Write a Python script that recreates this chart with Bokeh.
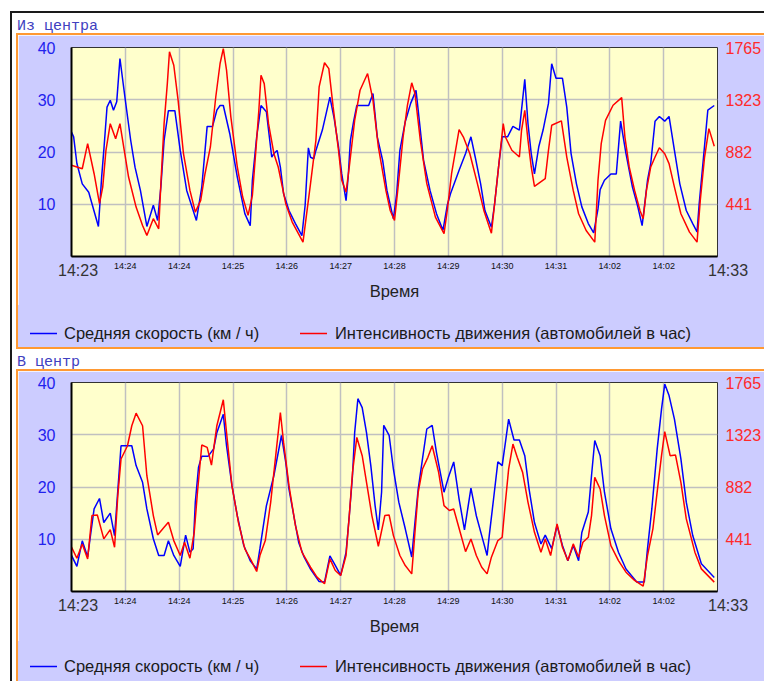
from bokeh.plotting import figure
from bokeh.models import Range1d, LinearAxis, FixedTicker, Div
from bokeh.layouts import column, row
from bokeh.embed import file_html
from bokeh.resources import INLINE

# ---------------- data ----------------
# time axis: seconds after 14:23:00, ticks every 50 s
tick_secs = [0, 50, 100, 150, 200, 250, 300, 350, 400, 450, 500, 550, 600]
tick_labels = ["14:23", "14:24", "14:24", "14:25", "14:26", "14:27", "14:28",
               "14:29", "14:30", "14:31", "14:02", "14:02", "14:33"]
speed_ticks = [10, 20, 30, 40]
flow_ticks = [441, 882, 1323, 1765]

panel_titles = ["Из центра", "В центр"]
speed_name = "Средняя скорость (км / ч)"
flow_name = "Интенсивность движения (автомобилей в час)"
x_title = "Время"

# panel 1 "Из центра": average speed (km/h)
out_speed_t = [0, 2, 5, 10, 16, 25, 28, 30, 33, 36, 39, 42, 45, 50, 55, 59, 64, 70, 76, 80,
               83, 86, 90, 96, 101, 107, 116, 121, 126, 131, 135, 138, 141, 147, 154, 161,
               166, 168, 172, 176, 181, 186, 188, 191, 194, 197, 202, 208, 214, 217, 220,
               222, 225, 227, 233, 240, 244, 248, 251, 255, 257, 259, 262, 265, 276, 280,
               284, 289, 293, 299, 302, 305, 310, 315, 320, 322, 327, 333, 339, 345, 349,
               352, 360, 366, 371, 375, 380, 384, 390, 393, 397, 400, 405, 410, 416, 421,
               424, 427, 430, 434, 438, 443, 446, 450, 456, 460, 464, 469, 474, 480, 485,
               489, 491, 495, 501, 506, 510, 515, 521, 526, 530, 535, 538, 542, 546, 551,
               555, 560, 565, 571, 577, 581, 583, 587, 591, 597]
out_speed_v = [23.8, 22.9, 17.8, 13.9, 12.3, 5.75, 15.2, 20.3, 28.6, 29.9, 28.0, 29.6, 37.9,
               29.9, 22.2, 17.1, 12.65, 5.75, 9.8, 6.9, 13.3, 22.2, 27.9, 27.9, 20.3, 12.65,
               6.9, 13.3, 24.9, 24.9, 28.0, 28.9, 28.9, 23.5, 15.2, 8.2, 5.9, 14.6, 22.9,
               28.9, 27.7, 19.0, 19.7, 20.3, 17.1, 12.0, 8.8, 6.3, 4.0, 9.8, 20.8, 19.0,
               18.7, 20.3, 24.2, 30.5, 26.4, 21.0, 15.8, 10.7, 15.3, 22.2, 25.8, 28.9, 28.9,
               31.2, 22.9, 18.4, 12.65, 7.2, 12.0, 20.3, 25.8, 29.3, 31.8, 28.0, 18.4, 12.65,
               8.2, 5.0, 9.8, 12.0, 16.5, 19.7, 22.9, 19.0, 13.9, 8.8, 5.6, 10.1, 17.8, 22.9,
               22.9, 24.9, 24.2, 33.9, 25.4, 19.7, 15.8, 21.0, 24.2, 29.3, 36.9, 34.1, 34.1,
               28.6, 19.7, 13.9, 9.5, 6.3, 4.5, 9.1, 12.8, 14.6, 15.8, 15.8, 25.9, 19.7,
               13.3, 9.5, 5.9, 14.6, 17.8, 25.9, 26.8, 25.9, 26.8, 20.3, 13.9, 8.8, 6.3, 4.7,
               10.1, 19.0, 28.0, 28.9]
# panel 1 "Из центра": traffic flow (vehicles per hour)
out_flow_t = [0, 10, 15, 21, 26, 29, 32, 36, 41, 45, 49, 53, 60, 66, 70, 76, 81, 83, 86, 89,
              91, 95, 99, 104, 110, 115, 120, 124, 129, 134, 138, 141, 144, 148, 154, 159,
              164, 168, 171, 174, 176, 179, 183, 188, 192, 199, 205, 215, 218, 222, 227,
              230, 235, 239, 243, 248, 251, 255, 258, 263, 268, 275, 280, 285, 292, 296,
              300, 303, 308, 312, 316, 319, 324, 330, 338, 346, 349, 353, 360, 364, 370,
              377, 383, 390, 393, 397, 401, 403, 409, 416, 418, 421, 424, 427, 430, 440,
              443, 446, 455, 460, 466, 471, 478, 486, 489, 492, 496, 503, 511, 514, 518,
              523, 528, 531, 534, 538, 542, 546, 551, 555, 560, 566, 574, 581, 584, 588,
              592, 597]
out_flow_v = [770, 741, 953, 699, 446, 586, 897, 1122, 995, 1122, 897, 671, 417, 262, 178,
              319, 234, 615, 1122, 1460, 1729, 1615, 1320, 868, 558, 375, 474, 699, 925,
              1347, 1630, 1756, 1574, 1179, 756, 502, 347, 516, 868, 1235, 1531, 1460, 1122,
              868, 756, 446, 291, 121, 333, 615, 981, 1432, 1636, 1587, 1263, 897, 643, 544,
              756, 1150, 1404, 1545, 1320, 925, 558, 389, 305, 558, 1009, 1277, 1467, 1376,
              981, 615, 333, 192, 389, 699, 1071, 1009, 868, 615, 389, 197, 446, 784, 1122,
              1009, 897, 840, 1066, 1235, 981, 756, 593, 657, 897, 1108, 1145, 840, 558, 361,
              220, 121, 643, 953, 1150, 1277, 1342, 1009, 756, 558, 389, 319, 558, 756, 840,
              918, 868, 784, 586, 361, 206, 121, 474, 840, 1080, 931]

# panel 2 "В центр": average speed (km/h)
in_speed_t = [0, 5, 10, 15, 18, 21, 26, 30, 36, 40, 43, 46, 56, 60, 66, 70, 76, 81, 86, 90,
              95, 101, 106, 110, 113, 115, 118, 121, 127, 132, 135, 141, 144, 149, 154, 160,
              166, 172, 175, 181, 188, 195, 199, 202, 207, 211, 216, 222, 230, 235, 240, 245,
              250, 255, 258, 261, 263, 266, 270, 274, 278, 282, 285, 288, 290, 295, 299, 304,
              310, 316, 319, 322, 326, 330, 335, 339, 346, 350, 355, 360, 365, 371, 376, 381,
              386, 388, 392, 396, 400, 403, 406, 411, 416, 421, 425, 430, 436, 440, 446, 451,
              456, 461, 466, 471, 474, 480, 483, 486, 491, 495, 501, 508, 515, 525, 532, 535,
              539, 544, 548, 551, 555, 560, 566, 571, 577, 585, 597]
in_speed_v = [6.9, 4.8, 9.7, 6.6, 11.3, 15.8, 17.8, 13.2, 15.0, 10.7, 19.3, 27.9, 27.9, 24.1,
              20.9, 15.8, 10.1, 6.9, 6.9, 9.7, 6.9, 4.8, 10.8, 7.5, 8.2, 17.1, 23.8, 25.9,
              25.9, 27.3, 30.4, 33.9, 27.9, 20.3, 14.5, 8.8, 5.9, 4.3, 8.2, 16.4, 22.2, 29.9,
              24.7, 19.6, 13.9, 9.4, 6.6, 4.3, 1.9, 1.8, 6.8, 5.0, 3.1, 7.5, 14.5, 22.2, 30.4,
              36.9, 35.2, 30.4, 24.1, 16.4, 11.8, 19.0, 31.8, 29.9, 23.4, 17.1, 12.0, 6.6,
              13.2, 19.6, 25.4, 31.1, 31.8, 26.6, 19.0, 21.8, 24.8, 17.7, 11.8, 19.8, 14.5,
              10.7, 6.9, 10.7, 17.7, 24.8, 24.1, 28.5, 33.0, 29.0, 29.0, 26.0, 19.6, 13.2, 9.1,
              10.8, 8.2, 12.6, 8.8, 5.9, 8.8, 5.9, 11.3, 15.2, 22.2, 28.9, 26.0, 19.0, 12.0,
              7.5, 4.3, 1.8, 1.8, 8.2, 15.8, 27.3, 34.9, 39.7, 37.5, 33.0, 25.4, 17.1, 10.7,
              5.3, 2.7]
# panel 2 "В центр": traffic flow (vehicles per hour)
in_flow_t = [0, 5, 10, 15, 19, 24, 30, 36, 40, 43, 46, 52, 56, 60, 66, 70, 76, 80, 86, 90,
             95, 101, 105, 110, 114, 117, 121, 126, 130, 135, 141, 144, 149, 155, 161, 167,
             172, 175, 180, 185, 190, 194, 197, 202, 208, 214, 222, 228, 235, 240, 245, 250,
             255, 258, 261, 265, 270, 275, 279, 285, 291, 295, 299, 305, 310, 316, 319, 322,
             326, 331, 335, 341, 346, 351, 355, 361, 366, 371, 376, 381, 386, 390, 396, 400,
             403, 406, 410, 414, 419, 424, 430, 436, 440, 445, 451, 456, 461, 466, 471, 475,
             480, 483, 486, 491, 495, 501, 508, 515, 523, 531, 535, 540, 545, 548, 551, 556,
             561, 566, 571, 579, 585, 597]
in_flow_v = [375, 281, 402, 275, 641, 646, 444, 523, 374, 809, 1119, 1231, 1400, 1506, 1400,
             978, 641, 478, 543, 585, 430, 304, 416, 281, 500, 838, 1237, 1217, 1068, 1400,
             1619, 1343, 894, 585, 360, 261, 169, 304, 430, 753, 1175, 1512, 1259, 894, 556,
             332, 205, 121, 65, 275, 177, 135, 304, 641, 1006, 1301, 1147, 866, 641, 382, 641,
             646, 472, 304, 219, 149, 500, 838, 1034, 1133, 1231, 1006, 725, 684, 697, 500,
             337, 444, 304, 205, 149, 290, 430, 458, 753, 1034, 1245, 1133, 1006, 753, 500,
             332, 444, 304, 571, 374, 261, 402, 290, 416, 458, 641, 964, 866, 641, 388, 261,
             163, 93, 45, 304, 529, 922, 1147, 1350, 1147, 1152, 922, 613, 332, 191, 79]

# ---------------- styling ----------------
LAV = "#CCCCFF"
YEL = "#FFFFCC"
ORANGE = "#FF9933"
GRID = "#C0C0C0"
BLUE = "#0000FF"
RED = "#FF0000"
SANS = "Liberation Sans"
FIG_W = 746


def make_panel(height, min_top, min_bottom, st, sv, ft, fv):
    p = figure(width=FIG_W, height=height, output_backend="svg", toolbar_location=None,
               x_range=Range1d(0, 600), y_range=Range1d(0, 40),
               min_border_left=53, min_border_right=45,
               min_border_top=min_top, min_border_bottom=min_bottom,
               background_fill_color=YEL, border_fill_color=LAV,
               outline_line_color="#333333", outline_line_width=1)
    p.extra_y_ranges = {"flow": Range1d(0, 1765)}

    xa = p.below[0]
    xt = FixedTicker(ticks=tick_secs)
    xa.ticker = xt
    p.xgrid.ticker = xt
    overrides = {t: lab for t, lab in zip(tick_secs, tick_labels)}
    overrides[tick_secs[0]] = ""     # end labels are drawn larger, below
    overrides[tick_secs[-1]] = ""
    xa.major_label_overrides = overrides
    xa.major_label_text_font = SANS
    xa.major_label_text_font_size = "9px"
    xa.major_label_text_color = "#111111"
    xa.major_label_standoff = 4
    xa.axis_label = x_title
    xa.axis_label_text_font = SANS
    xa.axis_label_text_font_size = "16.5px"
    xa.axis_label_text_font_style = "normal"
    xa.axis_label_text_color = "#222222"
    xa.axis_label_standoff = 8
    xa.axis_line_color = "#000000"
    xa.axis_line_width = 2
    xa.major_tick_out = 0
    xa.major_tick_in = 0
    xa.minor_tick_line_color = None

    ya = p.left[0]
    yt = FixedTicker(ticks=speed_ticks)
    ya.ticker = yt
    p.ygrid.ticker = yt
    ya.major_label_text_font = SANS
    ya.major_label_text_font_size = "16px"
    ya.major_label_text_color = "#2222EE"
    ya.major_label_standoff = 16
    ya.axis_line_color = "#000000"
    ya.axis_line_width = 2
    ya.major_tick_out = 0
    ya.major_tick_in = 0
    ya.minor_tick_line_color = None

    ra = LinearAxis(y_range_name="flow", ticker=FixedTicker(ticks=flow_ticks))
    ra.major_label_text_font = SANS
    ra.major_label_text_font_size = "16px"
    ra.major_label_text_color = "#FF2A2A"
    ra.major_label_standoff = 8
    ra.axis_line_color = None
    ra.major_tick_out = 0
    ra.major_tick_in = 0
    ra.minor_tick_line_color = None
    p.add_layout(ra, "right")

    for g in (p.xgrid, p.ygrid):
        g.grid_line_color = GRID
        g.grid_line_width = 1.5

    p.line(st, sv, line_color=BLUE, line_width=1.5)
    p.line(ft, fv, y_range_name="flow", line_color=RED, line_width=1.5)
    return p


def swatch(left, top, color):
    return ('<svg style="position:absolute;left:%dpx;top:%dpx" width="27" height="3" '
            'xmlns="http://www.w3.org/2000/svg"><line x1="0" y1="1.5" x2="27" y2="1.5" '
            'stroke="%s" stroke-width="1.5"/></svg>' % (left, top, color))


def legend_div(h, line_y, ends_top):
    tx = "position:absolute;white-space:nowrap;line-height:18px;top:%dpx;" % (line_y - 9)
    en = ("position:absolute;white-space:nowrap;line-height:18px;font-size:16px;"
          "color:#333333;top:%dpx;" % ends_top)
    html = (
        '<div style="position:relative;width:%dpx;height:%dpx;font-family:\'Liberation Sans\';'
        'font-size:16.5px;color:#1A1A1A">' % (FIG_W, h)
        + swatch(12, line_y - 1, BLUE)
        + '<span style="%sleft:46px">%s</span>' % (tx, speed_name)
        + swatch(282, line_y - 1, RED)
        + '<span style="%sleft:317px">%s</span>' % (tx, flow_name)
        + '<span style="%sleft:40px">%s</span>' % (en, tick_labels[0])
        + '<span style="%sleft:690px">%s</span>' % (en, tick_labels[-1])
        + '</div>'
    )
    return Div(text=html, width=FIG_W, height=h, margin=0,
               styles={"background-color": LAV, "overflow": "visible", "z-index": "3"})


def title_div(txt):
    return Div(text=('<div style="font-family:\'Liberation Mono\',monospace;font-size:15px;'
                     'color:#4040C0;padding:6px 0 0 1px;line-height:15px;white-space:nowrap">'
                     + txt + '</div>'),
               width=FIG_W + 2, height=20, margin=0, styles={"background-color": "#FFFFFF"})


def strip(w, h, color):
    return Div(text="", width=w, height=h, margin=0, styles={"background-color": color})


p1 = make_panel(270, 12, 49, out_speed_t, out_speed_v, out_flow_t, out_flow_v)
p2 = make_panel(270, 11, 50, in_speed_t, in_speed_v, in_flow_t, in_flow_v)

inner = column(
    title_div(panel_titles[0]),
    strip(FIG_W + 2, 2, ORANGE),
    row(strip(2, 312, ORANGE), column(p1, legend_div(42, 28, -43), spacing=0), spacing=0),
    strip(FIG_W + 2, 2, ORANGE),
    title_div(panel_titles[1]),
    strip(FIG_W + 2, 2, ORANGE),
    row(strip(2, 310, ORANGE), column(p2, legend_div(40, 25, -44), spacing=0), spacing=0),
    spacing=0,
)

root = column(
    strip(FIG_W + 8, 2, "#1A1A1A"),
    row(strip(2, 668, "#1A1A1A"), strip(4, 668, "#FFFFFF"), inner, spacing=0),
    spacing=0, margin=(11, 0, 0, 10),
)

open("out.html", "w").write(file_html(root, INLINE))
